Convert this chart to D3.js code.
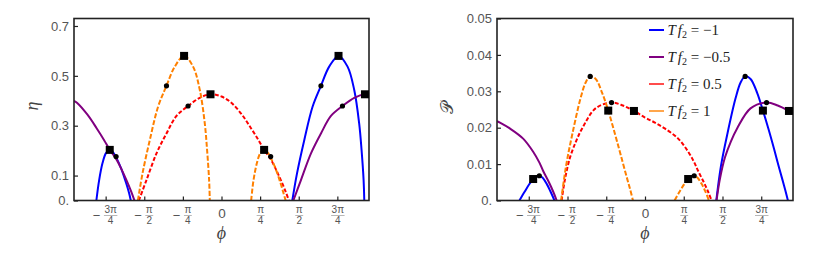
<!DOCTYPE html>
<html>
<head>
<meta charset="utf-8">
<script src="https://cdn.jsdelivr.net/npm/d3@7"></script>
<style>
  body { margin: 0; background: #fff; }
  svg text { fill: #555; }
</style>
</head>
<body>
<svg id="chart" width="814" height="264"></svg>
<script>
// ticks (phi in units of pi/4)
var phiTicks = [-3, -2, -1, 0, 1, 2, 3];
var phiTickLabels = [["−", "3π", "4"], ["−", "π", "2"], ["−", "π", "4"], ["", "0", ""], ["", "π", "4"], ["", "π", "2"], ["", "3π", "4"]];
var etaTicks = [0, 0.1, 0.3, 0.5, 0.7];
var etaTickLabels = ["0.", "0.1", "0.3", "0.5", "0.7"];
var powTicks = [0, 0.01, 0.02, 0.03, 0.04, 0.05];
var powTickLabels = ["0.", "0.01", "0.02", "0.03", "0.04", "0.05"];

// series: T f2 = -1, -0.5, 0.5, 1
var seriesValues = ["−1", "−0.5", "0.5", "1"];
var seriesColors = ["#0000ff", "#800080", "#ff0000", "#ff8000"];
var seriesDash = [null, null, "4,2", "5,2"];

// efficiency eta(phi), each series split into segments
var etaBlue = [
  [[-2.545,0],[-2.49,0.08],[-2.42,0.15],[-2.35,0.19],[-2.273,0.203],[-2.2,0.192],[-2.14,0.172],[-2.04,0.128],[-1.94,0.07],[-1.88,0.03],[-1.845,0]],
  [[1.44,0],[1.535,0.108],[1.683,0.242],[1.852,0.376],[2.023,0.46],[2.19,0.537],[2.38,0.58],[2.564,0.537],[2.70,0.443],[2.80,0.309],[2.849,0.202],[2.89,0.082],[2.904,0]]
];
var etaPurple = [
  [[-3.0,0.40],[-2.94,0.392],[-2.73,0.345],[-2.54,0.29],[-2.39,0.243],[-2.273,0.203],[-2.14,0.166],[-2.04,0.128],[-1.94,0.085],[-1.84,0.038],[-1.77,0]],
  [[1.462,0],[1.616,0.082],[1.82,0.189],[2.023,0.269],[2.226,0.339],[2.46,0.379],[2.70,0.412],[2.918,0.426],[3.0,0.424]]
];
var etaRed = [
  [[-1.68,0],[-1.526,0.082],[-1.322,0.189],[-1.119,0.269],[-0.916,0.339],[-0.68,0.379],[-0.441,0.412],[-0.224,0.426],[0.0,0.417],[0.2,0.392],[0.413,0.345],[0.6,0.29],[0.75,0.243],[0.867,0.203],[1.0,0.166],[1.1,0.128],[1.2,0.085],[1.3,0.038],[1.37,0]]
];
var etaOrange = [
  [[-1.70,0],[-1.607,0.108],[-1.459,0.242],[-1.29,0.376],[-1.119,0.46],[-0.95,0.537],[-0.761,0.58],[-0.578,0.537],[-0.441,0.443],[-0.34,0.309],[-0.293,0.202],[-0.252,0.082],[-0.238,0]],
  [[0.603,0],[0.65,0.08],[0.72,0.15],[0.79,0.19],[0.867,0.203],[0.94,0.192],[1.0,0.172],[1.1,0.128],[1.2,0.07],[1.26,0.03],[1.305,0]]
];
var etaSquares = [[-2.273,0.203],[-0.761,0.58],[-0.224,0.426],[0.867,0.203],[2.38,0.58],[2.918,0.426]];
var etaDots = [[-2.144,0.176],[-1.119,0.46],[-0.68,0.379],[1.0,0.176],[2.023,0.46],[2.46,0.379]];

// power P(phi)
var powBlue = [
  [[-2.545,0],[-2.44,0.0024],[-2.34,0.0046],[-2.267,0.0059],[-2.2,0.0066],[-2.142,0.0068],[-2.08,0.0063],[-1.99,0.0045],[-1.92,0.0026],[-1.835,0]],
  [[1.445,0],[1.54,0.0095],[1.665,0.018],[1.834,0.028],[1.94,0.0325],[2.03,0.0341],[2.14,0.0334],[2.275,0.0295],[2.39,0.0247],[2.5,0.0198],[2.614,0.0143],[2.70,0.0099],[2.784,0.0058],[2.84,0.003],[2.897,0]]
];
var powPurple = [
  [[-3.0,0.0218],[-2.94,0.0214],[-2.74,0.0198],[-2.47,0.017],[-2.267,0.0134],[-2.14,0.0104],[-2.064,0.0081],[-1.94,0.0048],[-1.86,0.0024],[-1.79,0]],
  [[1.45,0],[1.52,0.006],[1.62,0.0118],[1.74,0.0162],[1.867,0.0198],[2.139,0.0253],[2.464,0.0269],[2.69,0.0261],[2.918,0.0246],[3.0,0.024]]
];
var powRed = [
  [[-1.69,0],[-1.62,0.006],[-1.52,0.0118],[-1.4,0.0162],[-1.274,0.0198],[-1.003,0.0253],[-0.678,0.0269],[-0.45,0.0261],[-0.224,0.0246],[0.0,0.0228],[0.2,0.0214],[0.40,0.0198],[0.672,0.017],[0.875,0.0134],[1.0,0.0104],[1.078,0.0081],[1.2,0.0048],[1.28,0.0024],[1.35,0]]
];
var powOrange = [
  [[-1.70,0],[-1.6,0.0095],[-1.477,0.018],[-1.308,0.028],[-1.2,0.0325],[-1.111,0.0341],[-1.0,0.0334],[-0.867,0.0295],[-0.745,0.0247],[-0.64,0.0198],[-0.528,0.0143],[-0.44,0.0099],[-0.358,0.0058],[-0.3,0.003],[-0.244,0]],
  [[0.60,0],[0.7,0.0024],[0.8,0.0046],[0.875,0.0059],[0.94,0.0066],[0.997,0.0068],[1.06,0.0063],[1.15,0.0045],[1.22,0.0026],[1.296,0]]
];
var powSquares = [[-2.267,0.0059],[-0.745,0.0247],[-0.224,0.0246],[0.875,0.0059],[2.39,0.0247],[2.918,0.0246]];
var powDots = [[-2.142,0.0068],[-1.111,0.0341],[-0.678,0.0269],[0.997,0.0068],[2.03,0.0341],[2.464,0.0269]];

var svg = d3.select("#chart");
var plotTop = 18.5, plotBottom = 200.5;
var sans = "'Liberation Sans', Arial, sans-serif";
var serif = "'Liberation Serif', 'Times New Roman', serif";

function drawPanel(p) {
  var x = d3.scaleLinear().domain([-3, 3]).range([p.left, p.right]);
  var y = d3.scaleLinear().domain([0, p.yMax]).range([plotBottom, plotTop]);
  var g = svg.append("g");

  g.append("clipPath").attr("id", p.id + "-clip")
    .append("rect")
    .attr("x", p.left).attr("y", plotTop)
    .attr("width", p.right - p.left).attr("height", plotBottom - plotTop);

  var line = d3.line()
    .x(function(d) { return x(d[0]); })
    .y(function(d) { return y(d[1]); })
    .curve(d3.curveCatmullRom.alpha(0.5));

  var curves = g.append("g").attr("clip-path", "url(#" + p.id + "-clip)");
  p.series.forEach(function(segs, i) {
    segs.forEach(function(seg) {
      curves.append("path")
        .attr("d", line(seg))
        .attr("fill", "none")
        .attr("stroke", seriesColors[i])
        .attr("stroke-width", 2)
        .attr("stroke-dasharray", seriesDash[i]);
    });
  });

  // y axis, ticks pointing inward
  var yAxis = d3.axisLeft(y).tickValues(p.yTicks).tickSize(-4).tickPadding(5)
    .tickFormat(function(d, i) { return p.yLabels[i]; });
  var ya = g.append("g").attr("transform", "translate(" + p.left + ",0)").call(yAxis);
  ya.select(".domain").remove();
  ya.selectAll("line").attr("stroke", "#222").attr("stroke-width", 1.2);
  ya.selectAll("text").style("font-family", sans).style("font-size", "13px").style("fill", "#555");

  // x axis with pi fractions
  var xAxis = d3.axisBottom(x).tickValues(phiTicks.map(function(k) { return k * Math.PI / 4; }))
    .tickSize(-4).tickFormat("");
  var xa = g.append("g").attr("transform", "translate(0," + plotBottom + ")").call(xAxis);
  xa.select(".domain").remove();
  xa.selectAll("line").attr("stroke", "#222").attr("stroke-width", 1.2);
  xa.selectAll(".tick").each(function(d, i) {
    var t = d3.select(this), lab = phiTickLabels[i];
    if (lab[2] === "") {
      t.append("text").attr("y", 17).attr("text-anchor", "middle")
        .style("font-family", sans).style("font-size", "13.5px").text(lab[1]);
      return;
    }
    var cx = lab[0] ? 4.5 : 0;
    var num = t.append("text").attr("x", cx).attr("y", 12.5).attr("text-anchor", "middle")
      .style("font-family", sans).style("font-size", "10px").text(lab[1]);
    t.append("text").attr("x", cx).attr("y", 23.5).attr("text-anchor", "middle")
      .style("font-family", sans).style("font-size", "10px").text(lab[2]);
    var w = num.node().getComputedTextLength();
    t.append("line").attr("x1", cx - w / 2 - 0.5).attr("x2", cx + w / 2 + 0.5)
      .attr("y1", 15).attr("y2", 15).attr("stroke", "#888").attr("stroke-width", 0.6);
    if (lab[0]) {
      t.append("text").attr("x", cx - w / 2 - 4).attr("y", 19.5).attr("text-anchor", "end")
        .style("font-family", sans).style("font-size", "13px").text(lab[0]);
    }
  });

  // frame
  g.append("rect")
    .attr("x", p.left).attr("y", plotTop)
    .attr("width", p.right - p.left).attr("height", plotBottom - plotTop)
    .attr("fill", "none").attr("stroke", "#222").attr("stroke-width", 1.6);

  // markers
  var s = 8;
  g.selectAll(".sq").data(p.squares).enter().append("rect")
    .attr("x", function(d) { return x(d[0]) - s / 2; })
    .attr("y", function(d) { return y(d[1]) - s / 2; })
    .attr("width", s).attr("height", s).attr("fill", "#000");
  g.selectAll(".dot").data(p.dots).enter().append("circle")
    .attr("cx", function(d) { return x(d[0]); })
    .attr("cy", function(d) { return y(d[1]); })
    .attr("r", 2.6).attr("fill", "#000");

  // axis titles
  g.append("text").attr("x", (p.left + p.right) / 2).attr("y", 239)
    .attr("text-anchor", "middle")
    .style("font-family", serif).style("font-style", "italic").style("font-size", "18px")
    .style("fill", "#444").text("ϕ");
  g.append("text")
    .attr("transform", "translate(" + p.titleX + "," + p.titleY + ") rotate(-90)")
    .attr("text-anchor", "middle")
    .style("font-family", p.titleFont).style("font-style", p.titleStyle).style("font-size", p.titleSize + "px")
    .style("fill", "#444").text(p.title);
  return g;
}

drawPanel({
  id: "eta", left: 74, right: 369, yMax: 0.73,
  yTicks: etaTicks, yLabels: etaTickLabels,
  series: [etaBlue, etaPurple, etaRed, etaOrange],
  squares: etaSquares, dots: etaDots,
  title: "η", titleX: 38, titleY: 106, titleFont: serif, titleStyle: "italic", titleSize: 18
});

drawPanel({
  id: "pow", left: 497, right: 793, yMax: 0.05,
  yTicks: powTicks, yLabels: powTickLabels,
  series: [powBlue, powPurple, powRed, powOrange],
  squares: powSquares, dots: powDots,
  title: "𝒫", titleX: 453, titleY: 108, titleFont: "'DejaVu Serif', 'DejaVu Sans', serif", titleStyle: "normal", titleSize: 17
});

// legend
var legend = svg.append("g");
seriesValues.forEach(function(v, i) {
  var ly = 30 + i * 27;
  legend.append("line").attr("x1", 649).attr("x2", 664).attr("y1", ly).attr("y2", ly)
    .attr("stroke", seriesColors[i]).attr("stroke-width", 2)
    .attr("stroke-opacity", i >= 2 ? 0.7 : 1);
  var t = legend.append("text").attr("x", 667.5).attr("y", ly + 5)
    .style("font-family", serif).style("font-size", "15px").style("fill", "#222");
  t.append("tspan").style("font-style", "italic").text("T");
  t.append("tspan").attr("dx", 2).style("font-style", "italic").text("f");
  t.append("tspan").style("font-size", "10px").attr("dy", 3).text("2");
  t.append("tspan").attr("dy", -3).text(" = " + v);
});
</script>
</body>
</html>
